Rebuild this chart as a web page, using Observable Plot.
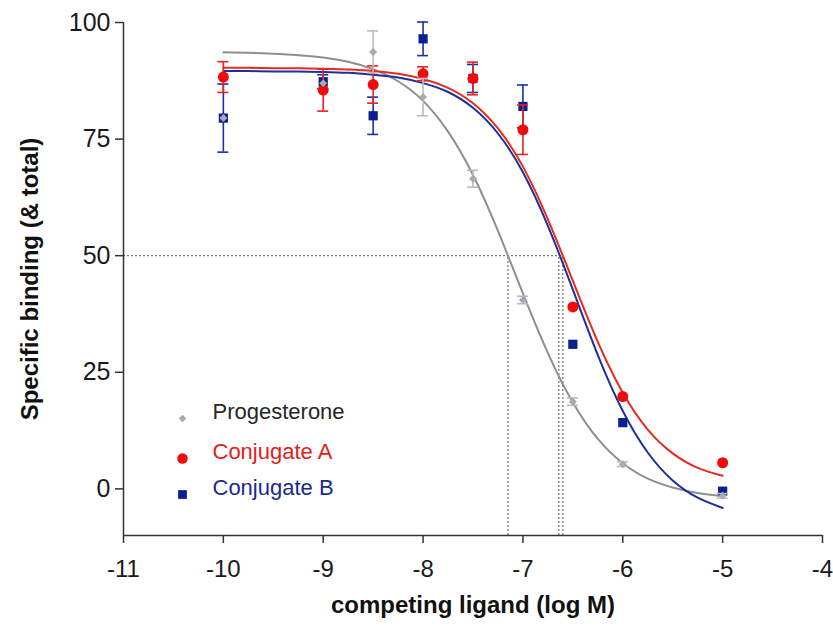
<!DOCTYPE html>
<html>
<head>
<meta charset="utf-8">
<script src="https://cdn.jsdelivr.net/npm/d3@7"></script>
<script src="https://cdn.jsdelivr.net/npm/@observablehq/plot@0.6"></script>
<style>
  html, body { margin: 0; padding: 0; background: #fff; }
  #chart svg { display: block; }
</style>
</head>
<body>
<div id="chart"></div>
<script>
// ---- data ----
const seriesNames = ["Progesterone", "Conjugate A", "Conjugate B"];
const logConc = [-10, -9, -8.5, -8, -7.5, -7, -6.5, -6, -5];

const progesterone    = [79.5, 87.0, 93.7, 84.0, 66.5, 40.5, 18.7, 5.3, -1.5];
const progesteroneErr = [0, 0, 4.5, 4.0, 1.8, 0.8, 0.8, 0.5, 0.5];
const conjugateA      = [88.3, 85.5, 86.7, 89.0, 88.0, 77.0, 39.0, 19.8, 5.6];
const conjugateAErr   = [3.3, 4.5, 4.0, 1.5, 3.5, 5.3, 0, 0, 0];
const conjugateB      = [79.5, 87.3, 80.0, 96.5, 88.0, 82.0, 31.0, 14.2, -0.5];
const conjugateBErr   = [7.3, 1.5, 4.0, 3.6, 3.0, 4.6, 0, 0, 0];

// fitted curves
const curveX = [-10, -9.75, -9.5, -9.25, -9, -8.75, -8.5, -8.25, -8, -7.75, -7.5,
                -7.25, -7, -6.75, -6.5, -6.25, -6, -5.75, -5.5, -5.25, -5];
const progesteroneFit = [93.6, 93.5, 93.3, 93.0, 92.5, 91.6, 90.0, 87.4, 83.2, 76.6, 67.3,
                         55.3, 41.9, 29.1, 18.5, 10.7, 5.5, 2.2, 0.3, -0.9, -1.6];
const conjugateAFit   = [90.3, 90.3, 90.2, 90.2, 90.1, 89.9, 89.6, 89.0, 87.9, 86.0, 82.7,
                         77.3, 69.1, 57.8, 44.6, 31.5, 20.6, 12.7, 7.6, 4.5, 2.8];
const conjugateBFit   = [89.6, 89.6, 89.5, 89.5, 89.4, 89.2, 88.8, 88.2, 87.0, 85.1, 81.7,
                         76.2, 67.9, 56.4, 42.7, 28.7, 16.7, 7.8, 1.8, -1.9, -4.1];

const ic50 = [-7.15, -6.60, -6.64];   // log IC50 per series (dotted guides)
const halfLevel = 50;

const xTicks = [-11, -10, -9, -8, -7, -6, -5, -4];
const yTicks = [0, 25, 50, 75, 100];
const xDomain = [-11, -4];
const yDomain = [-10, 100];

// ---- styles ----
const style = {
  "Progesterone": {marker: "#a8a8b6", bar: "#b9b9c2", line: "#8f8f8f", text: "#262626", symbol: "diamond2", r: 3.6},
  "Conjugate A":  {marker: "#f00a0a", bar: "#e8231d", line: "#e62a1e", text: "#e0201c", symbol: "circle", r: 5.5},
  "Conjugate B":  {marker: "#0c1f8e", bar: "#1631a0", line: "#1b309a", text: "#1a2a8c", symbol: "square", r: 5.2}
};

const yVals = [progesterone, conjugateA, conjugateB];
const yErrs = [progesteroneErr, conjugateAErr, conjugateBErr];
const fits = [progesteroneFit, conjugateAFit, conjugateBFit];

const points = seriesNames.map((s, i) => logConc.map((x, j) => ({series: s, x, y: yVals[i][j], e: yErrs[i][j]})));
const curves = seriesNames.map((s, i) => curveX.map((x, j) => ({series: s, x, y: fits[i][j]})));

const capHalf = 0.055;
const guide = {stroke: "#555", strokeWidth: 1, strokeDasharray: "2,2"};

const marks = [];

// dotted IC50 guides
marks.push(Plot.ruleY([halfLevel], {x1: xDomain[0], x2: d3.max(ic50), ...guide}));
marks.push(Plot.ruleX(ic50, {x: d => d, y1: yDomain[0], y2: halfLevel, ...guide}));

// fitted curves (gray, blue, red)
[0, 2, 1].forEach(i => {
  marks.push(Plot.line(curves[i], {x: "x", y: "y", stroke: style[seriesNames[i]].line, strokeWidth: 2, curve: "natural"}));
});

// error bars + markers (blue, red, gray)
[2, 1, 0].forEach(i => {
  const st = style[seriesNames[i]];
  const withErr = points[i].filter(d => d.e > 0);
  marks.push(Plot.ruleX(withErr, {x: "x", y1: d => d.y - d.e, y2: d => d.y + d.e, stroke: st.bar, strokeWidth: 1.6}));
  marks.push(Plot.ruleY(withErr, {y: d => d.y + d.e, x1: d => d.x - capHalf, x2: d => d.x + capHalf, stroke: st.bar, strokeWidth: 1.6}));
  marks.push(Plot.ruleY(withErr, {y: d => d.y - d.e, x1: d => d.x - capHalf, x2: d => d.x + capHalf, stroke: st.bar, strokeWidth: 1.6}));
  marks.push(Plot.dot(points[i], {x: "x", y: "y", symbol: st.symbol, fill: st.marker, r: st.r, stroke: "none"}));
});

// axes
const fmt = d => String(d);
marks.push(Plot.ruleX([xDomain[0]], {stroke: "#333", strokeWidth: 1.5}));
marks.push(Plot.ruleY([yDomain[0]], {stroke: "#333", strokeWidth: 1.5}));
marks.push(Plot.axisX({ticks: xTicks, tickFormat: fmt, tickSize: 8, tickPadding: 16, label: null, stroke: "#333", strokeWidth: 1.5, fill: "#1a1a1a", fontSize: 24}));
marks.push(Plot.axisY({ticks: yTicks, tickFormat: fmt, tickSize: 8, tickPadding: 5, label: null, stroke: "#333", strokeWidth: 1.5, fill: "#1a1a1a", fontSize: 25}));

// axis titles
marks.push(Plot.text(["competing ligand (log M)"], {text: d => d, frameAnchor: "bottom", dy: 77, textAnchor: "middle", fontWeight: "bold", fontSize: 24, fill: "#111"}));
marks.push(Plot.text(["Specific binding (& total)"], {text: d => d, frameAnchor: "left", dx: -93, rotate: -90, textAnchor: "middle", fontWeight: "bold", fontSize: 24, fill: "#111"}));

// legend (inside plot, lower left)
const legendDy = [-117, -77, -41];
seriesNames.forEach((s, i) => {
  const st = style[s];
  marks.push(Plot.dot([s], {frameAnchor: "bottom-left", dx: 59, dy: legendDy[i], symbol: st.symbol, fill: st.marker, r: st.r * 0.95, stroke: "none"}));
  marks.push(Plot.text([s], {text: d => d, frameAnchor: "bottom-left", dx: 89, dy: legendDy[i], textAnchor: "start", fill: st.text, fontSize: 22}));
});

const chart = Plot.plot({
  width: 833,
  height: 626,
  marginLeft: 123,
  marginRight: 11,
  marginTop: 22,
  marginBottom: 91,
  x: {domain: xDomain},
  y: {domain: yDomain},
  style: {fontFamily: "'Liberation Sans', Arial, Helvetica, sans-serif", fontSize: "25px", background: "#fff", overflow: "visible"},
  marks
});
document.getElementById("chart").appendChild(chart);
</script>
</body>
</html>
